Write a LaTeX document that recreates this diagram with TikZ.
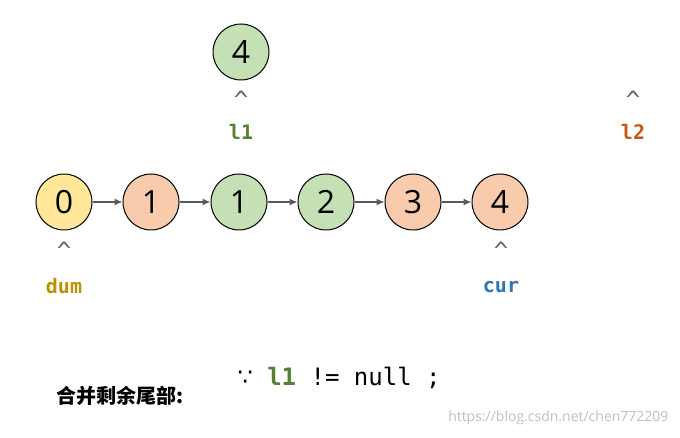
\documentclass[tikz,border=0pt]{standalone}
\usepackage{fontspec}
\setmainfont{Open Sans}
\setmonofont{DejaVu Sans Mono}
\newfontfamily\cjk{Noto Sans CJK SC}
\usetikzlibrary{arrows.meta}
\definecolor{cy}{HTML}{FFE699}
\definecolor{co}{HTML}{F8CBAD}
\definecolor{cg}{HTML}{C5E0B4}
\definecolor{tg}{HTML}{548235}
\definecolor{to}{HTML}{C55A11}
\definecolor{ty}{HTML}{BF9000}
\definecolor{tb}{HTML}{2E75B6}
\begin{document}
\begin{tikzpicture}[x=1pt,y=-1pt,
 nd/.style={circle,draw=black,line width=1pt,minimum size=56pt,inner sep=0pt,font=\fontsize{32}{32}\selectfont},
 lnk/.style={draw=black!65,line width=1.2pt,-{Latex[length=8pt,width=7pt]}},
 car/.style={text=black!60,font=\ttfamily\fontsize{24}{24}\selectfont},
 lab/.style={font=\ttfamily\bfseries\fontsize{20}{20}\selectfont}]
\useasboundingbox (0,0) rectangle (680,438);
\node[nd,fill=cy] (n0) at (64,202) {0};
\node[nd,fill=co] (n1) at (151,202) {1};
\node[nd,fill=cg] (n2) at (239,202) {1};
\node[nd,fill=cg] (n3) at (326,202) {2};
\node[nd,fill=co] (n4) at (413,202) {3};
\node[nd,fill=co] (n5) at (500,202) {4};
\node[nd,fill=cg] (t) at (241,52) {4};
\foreach \a/\b in {n0/n1,n1/n2,n2/n3,n3/n4,n4/n5} \draw[lnk] (\a) -- (\b);
\node[car] (c1) at (241,100) {\textasciicircum};
\node[car] (c2) at (633,100) {\textasciicircum};
\node[car] (c3) at (64,251) {\textasciicircum};
\node[car] (c4) at (501,251) {\textasciicircum};
\node[lab,text=tg] (l1) at (241,132) {l1};
\node[lab,text=to] (l2) at (633,132) {l2};
\node[lab,text=ty] (dum) at (64,286) {dum};
\node[lab,text=tb] (cur) at (501,287) {cur};
\node[font=\cjk\bfseries\fontsize{20}{20}\selectfont] (m) at (120,396) {合并剩余尾部:};
\node[font=\ttfamily\fontsize{24}{24}\selectfont,anchor=west] (code) at (234,378) {{\fontspec{DejaVu Sans}∵} \textcolor{tg}{\bfseries l1} != null ;};
\node[text=black!25,font=\fontsize{14}{14}\selectfont,anchor=east] (w) at (672,418) {https://blog.csdn.net/chen772209};
\end{tikzpicture}
\end{document}
